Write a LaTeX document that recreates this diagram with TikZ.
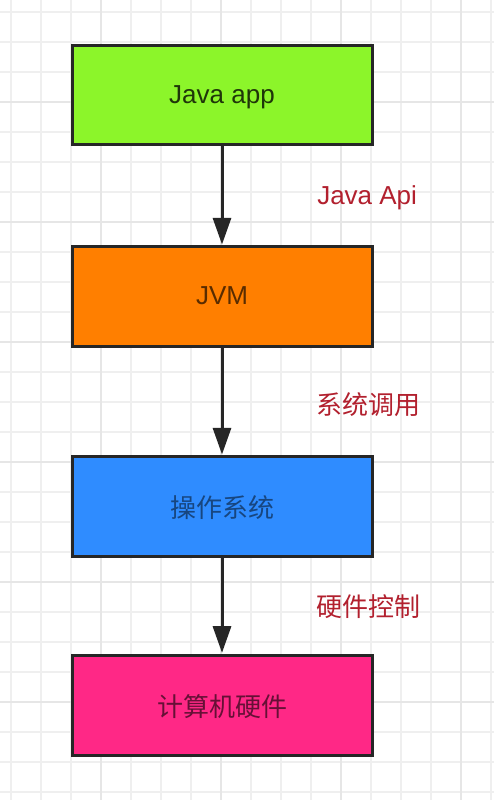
\documentclass[tikz,border=0pt]{standalone}
\usepackage{fontspec}
\setmainfont{Liberation Sans}
\newfontfamily\cjk{Noto Sans CJK SC}
\usetikzlibrary{arrows.meta}
\definecolor{gridminor}{HTML}{EFEFEF}
\definecolor{gridmajor}{HTML}{E6E6E6}
\definecolor{boxline}{HTML}{262626}
\definecolor{cgreen}{HTML}{8CF52A}
\definecolor{corange}{HTML}{FF7F00}
\definecolor{cblue}{HTML}{2F8CFF}
\definecolor{cpink}{HTML}{FF2886}
\definecolor{labred}{HTML}{B2202E}
\tikzset{
  layerbox/.style={draw=boxline, line width=2.25pt, rectangle,
    minimum width=225pt, minimum height=74.5pt, inner sep=0pt,
    text height=14pt, text depth=2pt,
    font=\fontsize{19.5}{22}\selectfont},
  cjkbox/.style={layerbox, text height=17pt, text depth=1pt,
    font=\fontsize{19.5}{22}\selectfont\cjk},
  flowarrow/.style={draw=boxline, line width=2.25pt,
    -{Triangle[length=20pt,width=13.5pt]}, shorten >=0.6pt},
  arrlabel/.style={anchor=west, inner sep=0pt, text=labred,
    font=\fontsize{19.5}{22}\selectfont},
}
\begin{document}
\begin{tikzpicture}[x=0.75pt,y=-0.75pt]
\useasboundingbox (0,0) rectangle (494,800);
\fill[white] (0,0) rectangle (494,800);
% grid
\foreach \k in {0,...,16}{
  \draw[gridminor, line width=1.2pt] ({11+30*\k},0) -- ({11+30*\k},800);
}
\foreach \k in {0,...,26}{
  \draw[gridminor, line width=1.2pt] (0,{12+30*\k}) -- (494,{12+30*\k});
}
\foreach \x in {101,221,341,461}{
  \draw[gridmajor, line width=1.4pt] (\x,0) -- (\x,800);
}
\foreach \y in {102,222,342,462,582,702}{
  \draw[gridmajor, line width=1.4pt] (0,\y) -- (494,\y);
}
% boxes
\node[layerbox, fill=cgreen, text=cgreen!22!black] (app) at (222,95) {Java app};
\node[layerbox, fill=corange, text=corange!35!black] (jvm) at (222,296.5) {JVM};
\node[cjkbox, fill=cblue, text=cblue!50!black] (os) at (222,506.5) {操作系统};
\node[cjkbox, fill=cpink, text=cpink!40!black, minimum height=75.5pt] (hw) at (222,705.5) {计算机硬件};
% arrows
\draw[flowarrow] (app) -- (jvm);
\draw[flowarrow] (jvm) -- (os);
\draw[flowarrow] (os) -- (hw);
% labels
\node[arrlabel] (l1) at (317,198) {Java Api};
\node[arrlabel] (l2) at (316,405) {\cjk 系统调用};
\node[arrlabel] (l3) at (316,607) {\cjk 硬件控制};
\end{tikzpicture}
\end{document}
